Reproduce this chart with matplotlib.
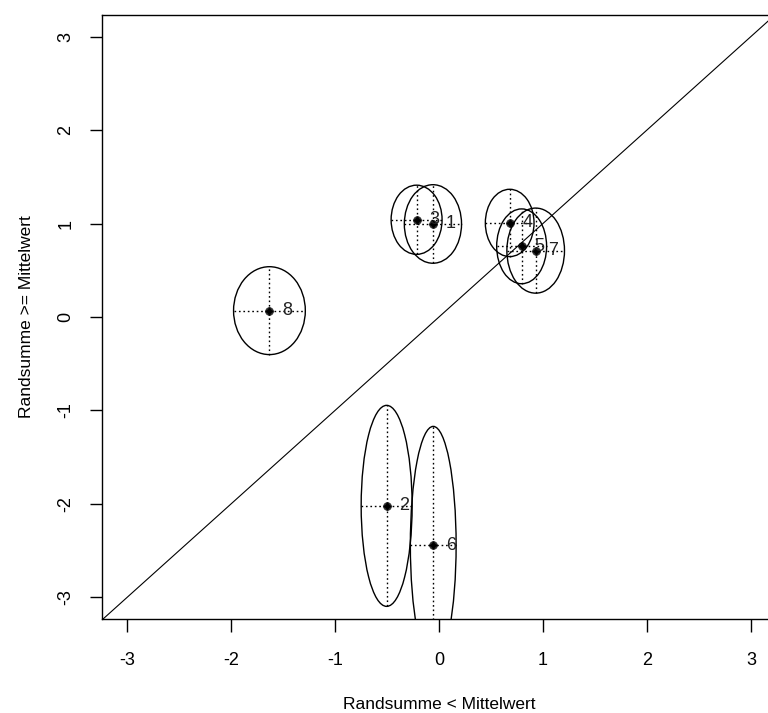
import matplotlib
matplotlib.use("Agg")
import matplotlib.pyplot as plt
from matplotlib.patches import Ellipse

plt.rcParams['font.family'] = ['Liberation Sans', 'DejaVu Sans']

# item estimates: centre and half-widths of the confidence ellipses
labels = ["1", "2", "3", "4", "5", "6", "7", "8"]
x_vals = [-0.058, -0.503, -0.215, 0.68, 0.795, -0.055, 0.93, -1.63]
y_vals = [0.995, -2.02, 1.04, 1.006, 0.756, -2.44, 0.71, 0.068]
x_half = [0.275, 0.245, 0.245, 0.234, 0.24, 0.22, 0.277, 0.345]
y_half = [0.42, 1.075, 0.37, 0.36, 0.40, 1.27, 0.455, 0.47]

ticks = [-3, -2, -1, 0, 1, 2, 3]

W, H, DPI = 768, 713, 100
fig = plt.figure(figsize=(W / DPI, H / DPI), dpi=DPI)

left_px, top_px, bottom_px = 102, 15, 619
xlim = (-3.24, 3.24)
px_per_unit_x = 104
width_px = (xlim[1] - xlim[0]) * px_per_unit_x
ax = fig.add_axes([left_px / W, (H - bottom_px) / H, width_px / W, (bottom_px - top_px) / H])
ax.set_xlim(*xlim)
ax.set_ylim(-3.23, 3.23)

# identity line
ax.plot([-4, 4], [-4, 4], color='black', lw=0.8)

for lab, x, y, hx, hy in zip(labels, x_vals, y_vals, x_half, y_half):
    ax.add_patch(Ellipse((x, y), 2 * hx, 2 * hy, fill=False, edgecolor='black', lw=1.0))
    ax.plot([x - hx, x + hx], [y, y], color='black', lw=1.0, ls=(0, (1.2, 2)))
    ax.plot([x, x], [y - hy, y + hy], color='black', lw=1.0, ls=(0, (1.2, 2)))
    ax.plot(x, y, marker='D', ms=3.5, color='black', mec='black')
    ax.plot(x, y, marker='o', ms=5.5, mfc='none', mec='black', mew=0.6)
    ax.annotate(lab, (x, y), xytext=(9, 0), textcoords='offset points',
                ha='left', va='center', fontsize=13, color='#222222')

ax.set_xticks(ticks)
ax.set_yticks(ticks)
ax.set_xticklabels([str(t) for t in ticks], fontsize=13)
ax.set_yticklabels([str(t) for t in ticks], fontsize=13, rotation=90, va='center')
ax.tick_params(axis='x', direction='out', length=9, width=1, pad=15)
ax.tick_params(axis='y', direction='out', length=9, width=1, pad=11)
for s in ax.spines.values():
    s.set_linewidth(1.0)

ax.set_xlabel("Randsumme < Mittelwert", fontsize=12.5, labelpad=20)
ax.set_ylabel("Randsumme >= Mittelwert", fontsize=12.5, labelpad=17)

fig.savefig("out.png", dpi=DPI)
